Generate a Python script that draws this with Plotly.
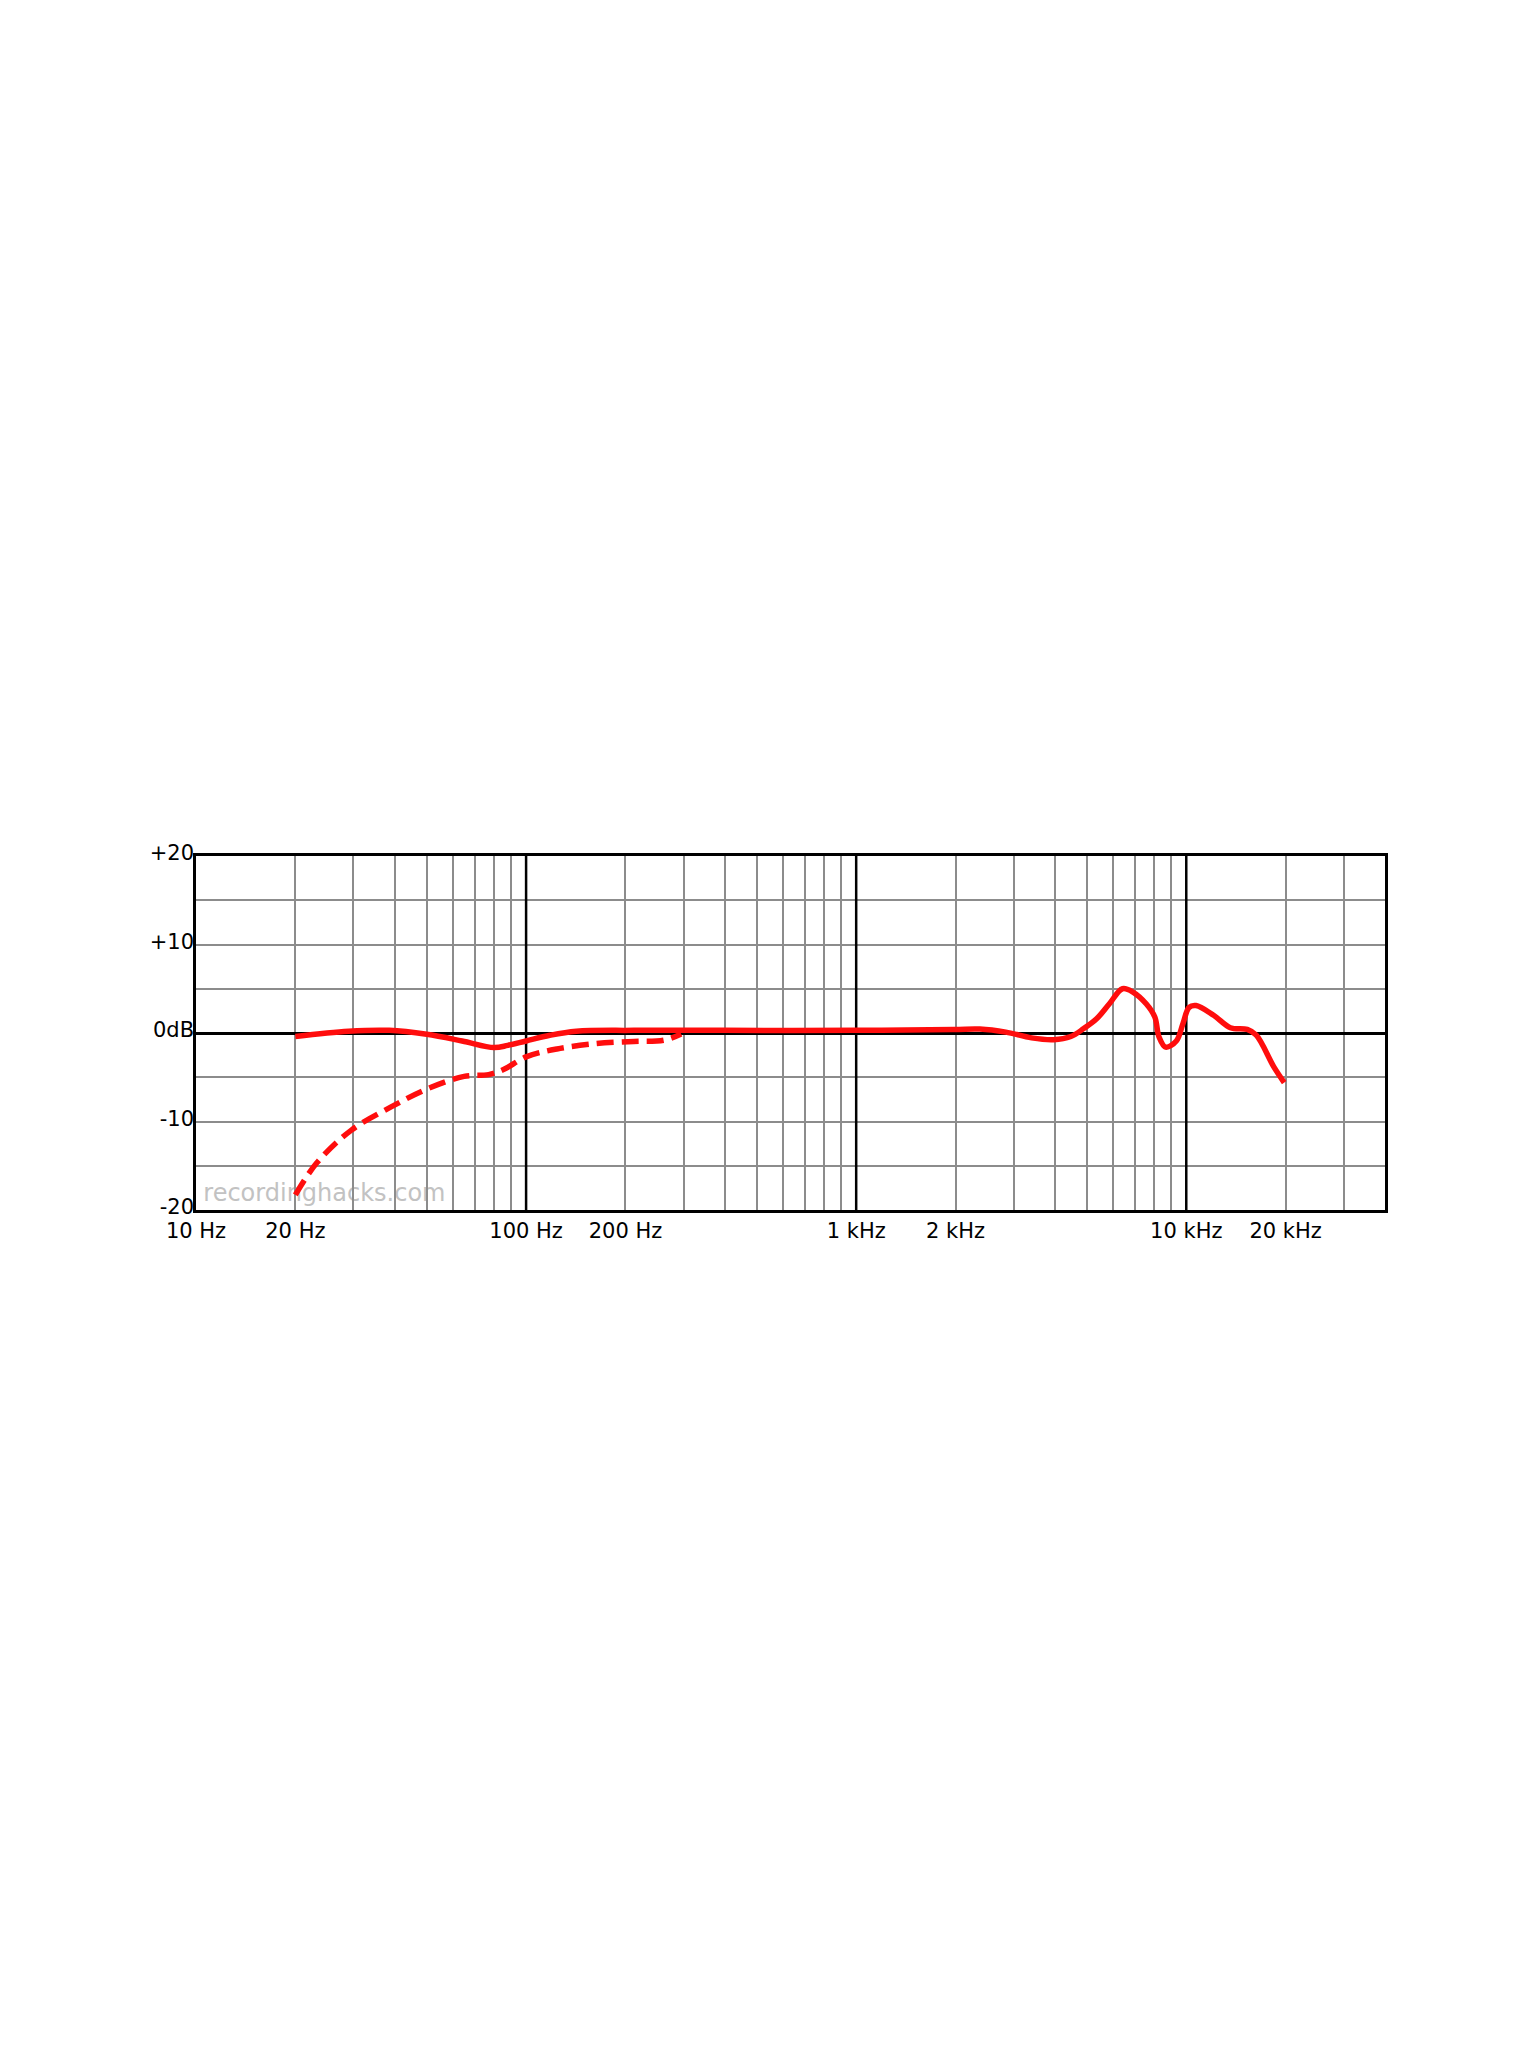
import plotly.graph_objects as go

# solid curve (on-axis response)
freq_solid = [20, 29, 38.5, 50, 64, 80, 88, 100, 118, 142, 212, 400, 1000, 1980, 2370, 2840,
              3400, 3960, 4470, 4890, 5350, 5850, 6410, 6910, 7560, 8030, 8270, 8660, 9330,
              9770, 10200, 10700, 12100, 13600, 15300, 16300, 18400, 19800]
db_solid = [-0.4, 0.2, 0.3, -0.15, -0.9, -1.65, -1.4, -0.9, -0.26, 0.2, 0.3, 0.3, 0.3, 0.4, 0.45, 0.1,
            -0.55, -0.75, -0.4, 0.5, 1.6, 3.3, 5.0, 4.6, 3.3, 1.8, -0.45, -1.6, -0.9,
            1.05, 2.9, 3.1, 2.0, 0.6, 0.4, -0.25, -3.8, -5.6]

# dashed curve (low cut)
freq_cut = [20, 23.2, 29.5, 39, 50.3, 64.9, 77, 85.7, 100, 124, 162, 212, 262, 295]
db_cut = [-18.3, -14.7, -11.0, -8.35, -6.3, -4.9, -4.7, -4.1, -2.7, -1.8, -1.2, -0.95, -0.8, -0.1]

x_labels = [10, 20, 100, 200, 1000, 2000, 10000, 20000]
x_text = ["10 Hz", "20 Hz", "100 Hz", "200 Hz", "1 kHz", "2 kHz", "10 kHz", "20 kHz"]
x_minor = [30, 40, 50, 60, 70, 80, 90, 300, 400, 500, 600, 700, 800, 900,
           3000, 4000, 5000, 6000, 7000, 8000, 9000, 30000, 40000]
decades = [100, 1000, 10000]
y_ticks = [-20, -10, 0, 10, 20]
y_text = ["-20", "-10", "0dB", "+10", "+20"]

RED = "#ff0d0d"
GRID = "#8c8c8c"
FONT = "DejaVu Sans"

fig = go.Figure()

# black decade lines
dx, dy = [], []
for d in decades:
    dx += [d, d, None]
    dy += [-20, 20, None]
fig.add_trace(go.Scatter(x=dx, y=dy, mode="lines", line=dict(color="black", width=2.5),
                         hoverinfo="skip"))

fig.add_trace(go.Scatter(x=freq_cut, y=db_cut, mode="lines", line_shape="spline",
                         line=dict(color=RED, width=5.5, dash="17px,8px")))
fig.add_trace(go.Scatter(x=freq_solid, y=db_solid, mode="lines", line_shape="spline",
                         line=dict(color=RED, width=5.5)))

fig.add_shape(type="rect", xref="paper", yref="paper", x0=0.004, x1=0.212, y0=0.01, y1=0.10,
              layer="between", fillcolor="white", line_width=0,
              label=dict(text="recordinghacks.com", font=dict(color="#c2c2c2", size=24,
                                                               family=FONT)))

fig.update_xaxes(type="log", range=[1, 4.60206], tickvals=x_labels, ticktext=x_text,
                 showgrid=True, gridcolor=GRID, gridwidth=2,
                 minor=dict(tickvals=x_minor, showgrid=True, gridcolor=GRID, gridwidth=2),
                 showline=True, linecolor="black", linewidth=2.5, mirror=True,
                 ticks="", ticklabelstandoff=0, zeroline=False,
                 tickfont=dict(size=21, color="black", family=FONT))
fig.update_yaxes(range=[-20, 20], tickvals=y_ticks, ticktext=y_text,
                 showgrid=True, gridcolor=GRID, gridwidth=2,
                 minor=dict(dtick=5, showgrid=True, gridcolor=GRID, gridwidth=2),
                 zeroline=True, zerolinecolor="black", zerolinewidth=2.5,
                 showline=True, linecolor="black", linewidth=2.5, mirror=True,
                 ticks="", ticklabelshift=-3, ticklabelstandoff=-5,
                 tickfont=dict(size=21, color="black", family=FONT))

fig.update_layout(width=1536, height=2048, showlegend=False, hovermode=False,
                  margin=dict(l=188, r=159, t=848, b=846),
                  paper_bgcolor="white", plot_bgcolor="white",
                  font=dict(family=FONT, color="black"))

fig.write_html("out.html")
